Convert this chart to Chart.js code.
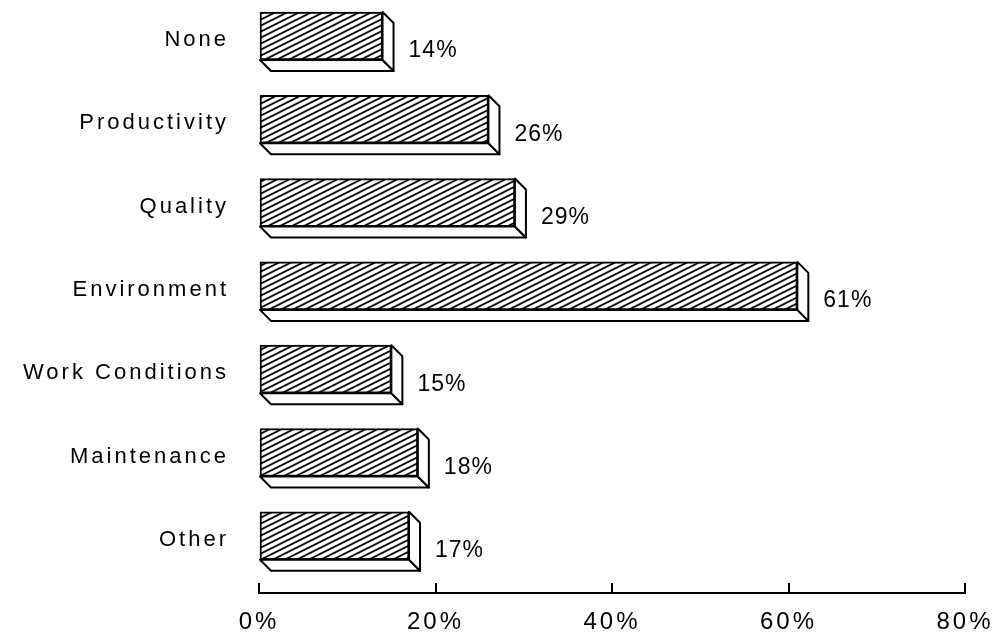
<!DOCTYPE html>
<html><head><meta charset="utf-8">
<script src="https://cdn.jsdelivr.net/npm/chart.js@4.4.1/dist/chart.umd.min.js"></script>
<style>html,body{margin:0;padding:0;background:#fff;}#wrap{width:999px;height:642px;}</style>
</head><body><div id="wrap"><canvas id="c" width="999" height="642"></canvas></div>
<script>
const categories = ['None', 'Productivity', 'Quality', 'Environment', 'Work Conditions', 'Maintenance', 'Other'];
const values = [14, 26, 29, 61, 15, 18, 17];
const xTicks = [0, 20, 40, 60, 80];

const FONT = '"Liberation Sans", Arial, Helvetica, sans-serif';
const DX = 11, DY = 11;

const hatch = (() => {
  const t = document.createElement('canvas'); t.width = 12; t.height = 6;
  const g = t.getContext('2d');
  g.fillStyle = '#fff'; g.fillRect(0, 0, 12, 6);
  g.strokeStyle = '#000'; g.lineWidth = 1.8;
  for (let m = -1; m <= 1; m++) {
    g.beginPath(); g.moveTo(-2, 7 + 6 * m); g.lineTo(14, -1 + 6 * m); g.stroke();
  }
  return g.createPattern(t, 'repeat');
})();

const box3d = {
  id: 'box3d',
  beforeDraw(chart) { chart.ctx.letterSpacing = '3px'; },
  afterDatasetsDraw(chart) {
    const ctx = chart.ctx;
    const meta = chart.getDatasetMeta(0);
    ctx.save();
    ctx.lineWidth = 2; ctx.strokeStyle = '#000'; ctx.lineJoin = 'round';
    meta.data.forEach((el, i) => {
      const p = el.getProps(['x', 'y', 'base', 'height'], true);
      const t = p.y - p.height / 2, b = p.y + p.height / 2;
      ctx.fillStyle = '#fff';
      ctx.beginPath();
      ctx.moveTo(p.base, b); ctx.lineTo(p.x, b); ctx.lineTo(p.x + DX, b + DY); ctx.lineTo(p.base + DX, b + DY);
      ctx.closePath(); ctx.fill(); ctx.stroke();
      ctx.beginPath();
      ctx.moveTo(p.x, t); ctx.lineTo(p.x + DX, t + DY); ctx.lineTo(p.x + DX, b + DY); ctx.lineTo(p.x, b);
      ctx.closePath(); ctx.fill(); ctx.stroke();
      ctx.fillStyle = '#000';
      ctx.font = '23px ' + FONT;
      ctx.letterSpacing = '1px';
      ctx.textAlign = 'left'; ctx.textBaseline = 'middle';
      ctx.fillText(values[i] + '%', p.x + DX + 15, p.y + 15);
    });
    ctx.restore();
    ctx.letterSpacing = '3px';
  }
};

new Chart(document.getElementById('c'), {
  type: 'bar',
  data: {
    datasets: [{
      data: values.map((v, i) => ({ x: v, y: i })),
      backgroundColor: hatch,
      borderColor: '#000',
      borderWidth: 2,
      borderSkipped: false,
      barThickness: 48
    }]
  },
  options: {
    indexAxis: 'y',
    responsive: false,
    animation: false,
    devicePixelRatio: 1,
    layout: { padding: { left: 0, top: 0, right: 34, bottom: 0 } },
    plugins: { legend: { display: false }, tooltip: { enabled: false } },
    scales: {
      y: {
        type: 'linear', reverse: true, offset: false, min: -0.432, max: 6.687,
        afterBuildTicks(s) { s.ticks = categories.map((_, i) => ({ value: i })); },
        afterFit(s) { s.width = 259; s.paddingTop = 0; s.paddingBottom = 0; },
        grid: { display: false, drawTicks: false, offset: false },
        border: { display: false },
        ticks: {
          padding: 30, labelOffset: 4, color: '#000',
          font: { family: FONT, size: 22 },
          callback: (v) => categories[v] ?? ''
        }
      },
      x: {
        type: 'linear', min: 0, max: 80,
        afterBuildTicks(s) { s.ticks = xTicks.map(v => ({ value: v })); },
        afterFit(s) { s.height = 49; s.paddingLeft = 0; s.paddingRight = 0; },
        grid: { display: true, drawOnChartArea: false, drawTicks: true, tickLength: -10, lineWidth: 2, color: '#000' },
        border: { display: true, width: 2, color: '#000' },
        ticks: {
          padding: 25, color: '#000',
          font: { family: FONT, size: 24 },
          callback: (v) => v + '%'
        }
      }
    }
  },
  plugins: [box3d]
});
</script>
</body></html>
